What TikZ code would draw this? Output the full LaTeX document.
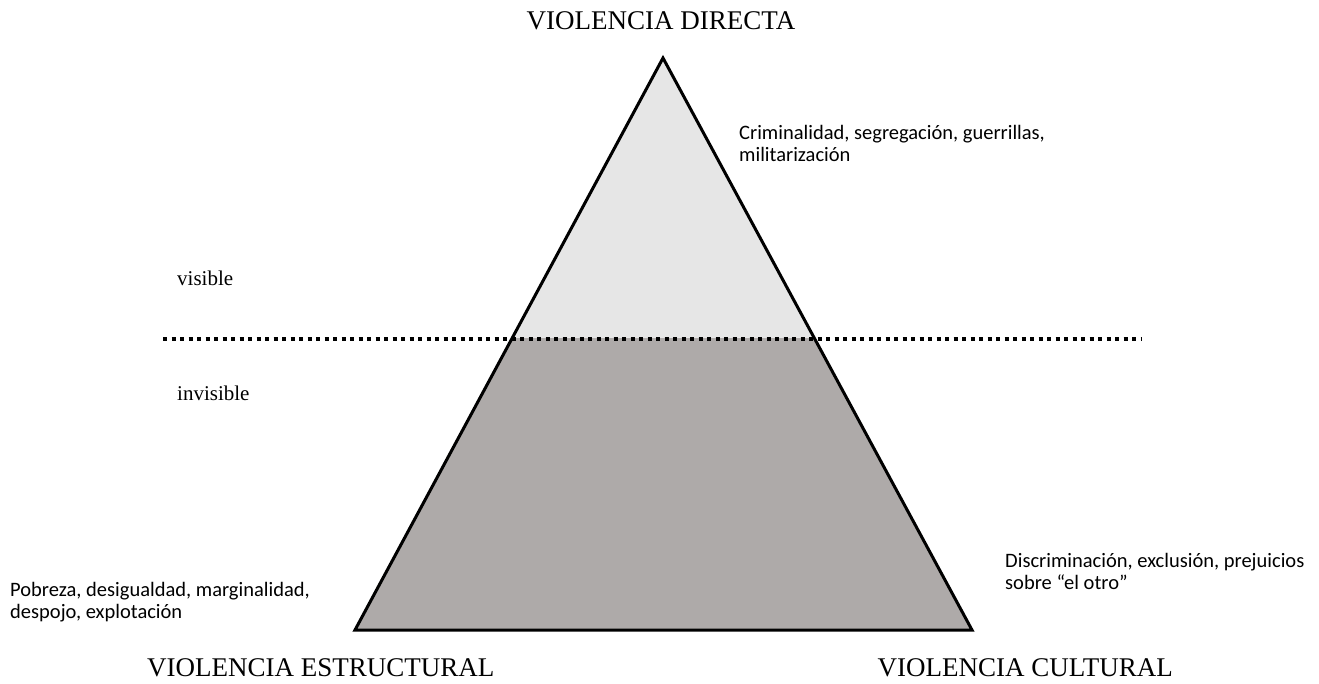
\documentclass[tikz,border=0pt]{standalone}
\usepackage{fontspec}
\setmainfont{Liberation Serif}
\newfontfamily\calibrifont{Carlito}
\usepackage{tikz}
\usetikzlibrary{positioning,calc}

\definecolor{topgray}{HTML}{E6E6E6}
\definecolor{basegray}{HTML}{AEAAA9}

\begin{document}
\begin{tikzpicture}[x=1pt,y=-1pt,
        title/.style={font=\fontsize{27}{30}\selectfont, inner sep=0pt},
        layer/.style={font=\fontsize{21}{24}\selectfont, inner sep=0pt},
        note/.style={font=\calibrifont\fontsize{20.5}{22}\selectfont, inner sep=0pt, align=left},
        edge/.style={line width=3pt, line join=miter},
        water/.style={line width=3.5pt, dash pattern=on 4pt off 4.5pt}
        ]
    \useasboundingbox (0,0) rectangle (1319,683);

        % Corners
        \coordinate (apex) at (663,58);
        \coordinate (bl) at (355,630);
        \coordinate (br) at (972,630);
        \coordinate (wl) at ($(apex)!0.4895!(bl)$);
        \coordinate (wr) at ($(apex)!0.4895!(br)$);
        \coordinate (ls) at (163,339);
        \coordinate (le) at (1142,339);

        % Fills
        \fill[topgray] (apex) -- (wl) -- (wr) -- cycle;
        \fill[basegray] (wl) -- (bl) -- (br) -- (wr) -- cycle;

        % Lines
        \draw[water] (ls) -- (le);
        \draw[edge] (apex) -- (bl) -- (br) -- cycle;

        % Nodes
        \node[title, anchor=base] (directa) at (661,29) {VIOLENCIA DIRECTA};
        \node[title, anchor=base west] (estructural) at (147,676) {VIOLENCIA ESTRUCTURAL};
        \node[title, anchor=base east] (cultural) at (1173,676) {VIOLENCIA CULTURAL};
        \node[layer, anchor=base west] (visible) at (177,285) {visible};
        \node[layer, anchor=base west] (invisible) at (177,400) {invisible};
        \node[note, anchor=base west] (crim) at (739,161) {Criminalidad, segregación, guerrillas,\\militarización};
        \node[note, anchor=base west] (pobreza) at (10,618) {Pobreza, desigualdad, marginalidad,\\despojo, explotación};
        \node[note, anchor=base west] (discrim) at (1005,589) {Discriminación, exclusión, prejuicios\\sobre “el otro”};

    \end{tikzpicture}
\end{document}
